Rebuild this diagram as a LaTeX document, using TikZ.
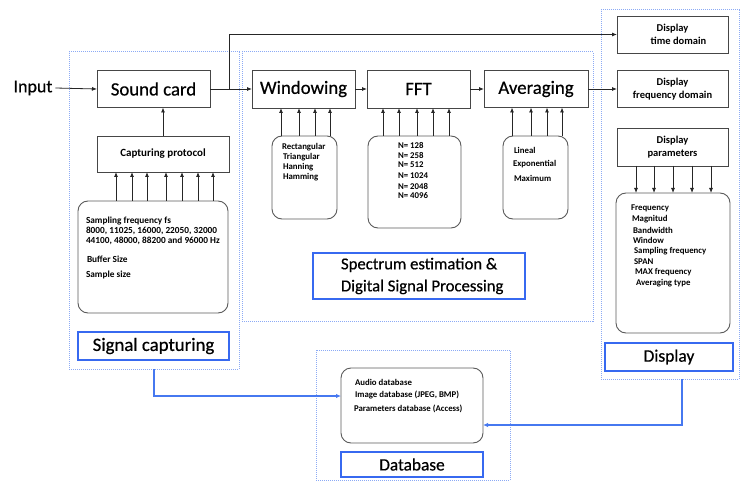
\documentclass[tikz,border=0pt]{standalone}
\usepackage{fontspec}
\setmainfont{Carlito}
\newfontfamily\heavyfont{Carlito}[FakeBold=0.5]
\usetikzlibrary{arrows.meta}
\definecolor{dotblue}{RGB}{140,170,245}
\definecolor{lblblue}{RGB}{55,105,240}
\definecolor{conblue}{RGB}{70,120,240}
\definecolor{edgegray}{RGB}{70,70,70}
\definecolor{roundgray}{RGB}{90,90,90}
\newcommand\myfs[2]{\fontsize{#1}{#2}\selectfont}
\begin{document}
\begin{tikzpicture}[x=1pt,y=-1pt,
  every node/.style={outer sep=0pt,inner sep=0pt},
  box/.style={draw=edgegray,line width=0.9pt,fill=white},
  rbox/.style={draw=roundgray,line width=0.9pt,rounded corners=10pt,fill=white},
  dotbox/.style={draw=dotblue,line width=1pt,densely dotted},
  lblbox/.style={draw=lblblue,line width=2.2pt,fill=white},
  big/.style={font=\heavyfont\myfs{18.8}{20}},
  small/.style={font=\bfseries\myfs{10.5}{13.5}},
  tiny/.style={font=\bfseries\myfs{8.8}{10},anchor=west},
  arr/.style={draw=black!85,line width=0.8pt,-{Latex[length=5pt,width=4pt]}},
  bluearr/.style={draw=conblue,line width=1.8pt,-{Latex[length=5pt,width=4.5pt]}}
]
\useasboundingbox (0,0) rectangle (744,481);

% dotted containers
\node[dotbox,minimum width=170pt,minimum height=317pt] (sigdot) at (154,210.5) {};
\node[dotbox,minimum width=351pt,minimum height=269pt] (specdot) at (417.5,186.5) {};
\node[dotbox,minimum width=138pt,minimum height=369pt] (dispdot) at (670,194.5) {};
\node[dotbox,minimum width=194pt,minimum height=130pt] (dbdot) at (413,415) {};

% signal capturing
\node[font=\heavyfont\myfs{18}{20}] (input) at (33,88) {Input};
\node[box,big,minimum width=113pt,minimum height=37pt] (sound) at (153.5,89) {Sound card};
\node[box,font=\bfseries\myfs{11}{13},minimum width=132pt,minimum height=36pt] (capp) at (163,154) {Capturing protocol};
\node[rbox,minimum width=150pt,minimum height=112pt] (cpar) at (153,257) {};
\node[tiny,font=\bfseries\myfs{9.3}{10}] (c1) at (86,221) {Sampling frequency fs};
\node[tiny,font=\bfseries\myfs{9.3}{10}] (c2) at (86,231) {8000, 11025, 16000, 22050, 32000};
\node[tiny,font=\bfseries\myfs{9.3}{10}] (c3) at (86,241) {44100, 48000, 88200 and 96000 Hz};
\node[tiny,font=\bfseries\myfs{9.3}{10}] (c4) at (87,259) {Buffer Size};
\node[tiny,font=\bfseries\myfs{9.3}{10}] (c5) at (86,275) {Sample size};
\node[lblbox,big,minimum width=151pt,minimum height=28pt] (siglbl) at (153.5,346) {Signal capturing};

\draw[arr] (input.east) ++(3,0) coordinate (inp) (inp) -- (sound.west);
\draw[arr] (capp.north) -- (capp.north |- sound.south);
\foreach \x in {116,132,147,166,182,198,213}
  \draw[arr] (\x,0 |- cpar.north) -- (\x,0 |- capp.south);

% spectrum estimation
\node[box,big,minimum width=103pt,minimum height=38pt] (win) at (303.5,89) {Windowing};
\node[box,big,minimum width=103pt,minimum height=38pt] (fft) at (418.5,89) {FFT};
\node[box,big,minimum width=104pt,minimum height=37pt] (avg) at (536,89) {Averaging};
\node[rbox,minimum width=65pt,minimum height=83pt] (wpar) at (304.5,177.5) {};
\node[rbox,minimum width=93pt,minimum height=92pt] (fpar) at (414.5,182) {};
\node[rbox,minimum width=65pt,minimum height=83pt] (apar) at (535.5,177.5) {};
\node[tiny] (w1) at (282,147) {Rectangular};
\node[tiny] (w2) at (283,157) {Triangular};
\node[tiny] (w3) at (283,167) {Hanning};
\node[tiny] (w4) at (283,177) {Hamming};
\node[tiny] (f1) at (398,145) {N= 128};
\node[tiny] (f2) at (398,155) {N= 258};
\node[tiny] (f3) at (398,165) {N= 512};
\node[tiny] (f4) at (398,176) {N= 1024};
\node[tiny] (f5) at (398,186) {N= 2048};
\node[tiny] (f6) at (398,196) {N= 4096};
\node[tiny] (a1) at (514,150) {Lineal};
\node[tiny] (a2) at (513,164) {Exponential};
\node[tiny] (a3) at (514,178) {Maximum};
\node[lblbox,minimum width=212pt,minimum height=46pt] (speclbl) at (419,276) {};
\node[font=\heavyfont\myfs{16.7}{22},align=left,anchor=west] (spectxt) at (341,276) {Spectrum estimation \&\\Digital Signal Processing};

\foreach \x in {281,299,315,330}
  \draw[arr] (\x,0 |- wpar.north) -- (\x,0 |- win.south);
\foreach \x in {383,399,417,433,449}
  \draw[arr] (\x,0 |- fpar.north) -- (\x,0 |- fft.south);
\foreach \x in {512,531,547,562}
  \draw[arr] (\x,0 |- apar.north) -- (\x,0 |- avg.south);

\draw[arr] (sound.east) -- (win.west);
\draw[arr] (win.east) -- (fft.west);
\draw[arr] (fft.east) -- (avg.west);

% display
\node[box,small,align=center,minimum width=111pt,minimum height=37pt] (time) at (672.5,34.5) {Display\\\hspace*{12pt}time domain};
\node[box,small,align=center,minimum width=111pt,minimum height=37pt] (freq) at (672.5,89) {Display\\frequency domain};
\node[box,small,align=center,minimum width=111pt,minimum height=38pt] (dpar) at (672.5,147) {Display\\parameters};
\node[rbox,minimum width=114pt,minimum height=140pt] (dlist) at (673,263) {};
\node[tiny] (d1) at (631,208) {Frequency};
\node[tiny] (d2) at (632,219) {Magnitud};
\node[tiny] (d3) at (633,230) {Bandwidth};
\node[tiny] (d4) at (633,240) {Window};
\node[tiny] (d5) at (634,251) {Sampling frequency};
\node[tiny] (d6) at (634,262) {SPAN};
\node[tiny] (d7) at (635,272) {MAX frequency};
\node[tiny] (d8) at (636,283) {Averaging type};
\node[lblbox,font=\heavyfont\myfs{17.5}{20},minimum width=128pt,minimum height=28pt] (displbl) at (669,357) {Display};

\foreach \x in {636,654,673,692,711}
  \draw[arr] (\x,0 |- dpar.south) -- (\x,0 |- dlist.north);

\coordinate (br) at (229,89);
\draw[arr] (br) |- (time.west);
\draw[arr] (avg.east) -- (freq.west);

% database
\node[rbox,minimum width=142pt,minimum height=75pt] (dbp) at (412,405.5) {};
\node[tiny] (b1) at (355,382) {Audio database};
\node[tiny] (b2) at (355,395) {Image database (JPEG, BMP)};
\node[tiny] (b3) at (354,409) {Parameters database (Access)};
\node[lblbox,font=\heavyfont\myfs{17.3}{18},minimum width=142pt,minimum height=25pt] (dblbl) at (412,464.5) {Database};

\draw[bluearr] (154,0 |- sigdot.south) |- (dbp.west |- 0,396);
\draw[bluearr] (682,0 |- dispdot.south) |- (dbp.east |- 0,425);
\end{tikzpicture}
\end{document}
